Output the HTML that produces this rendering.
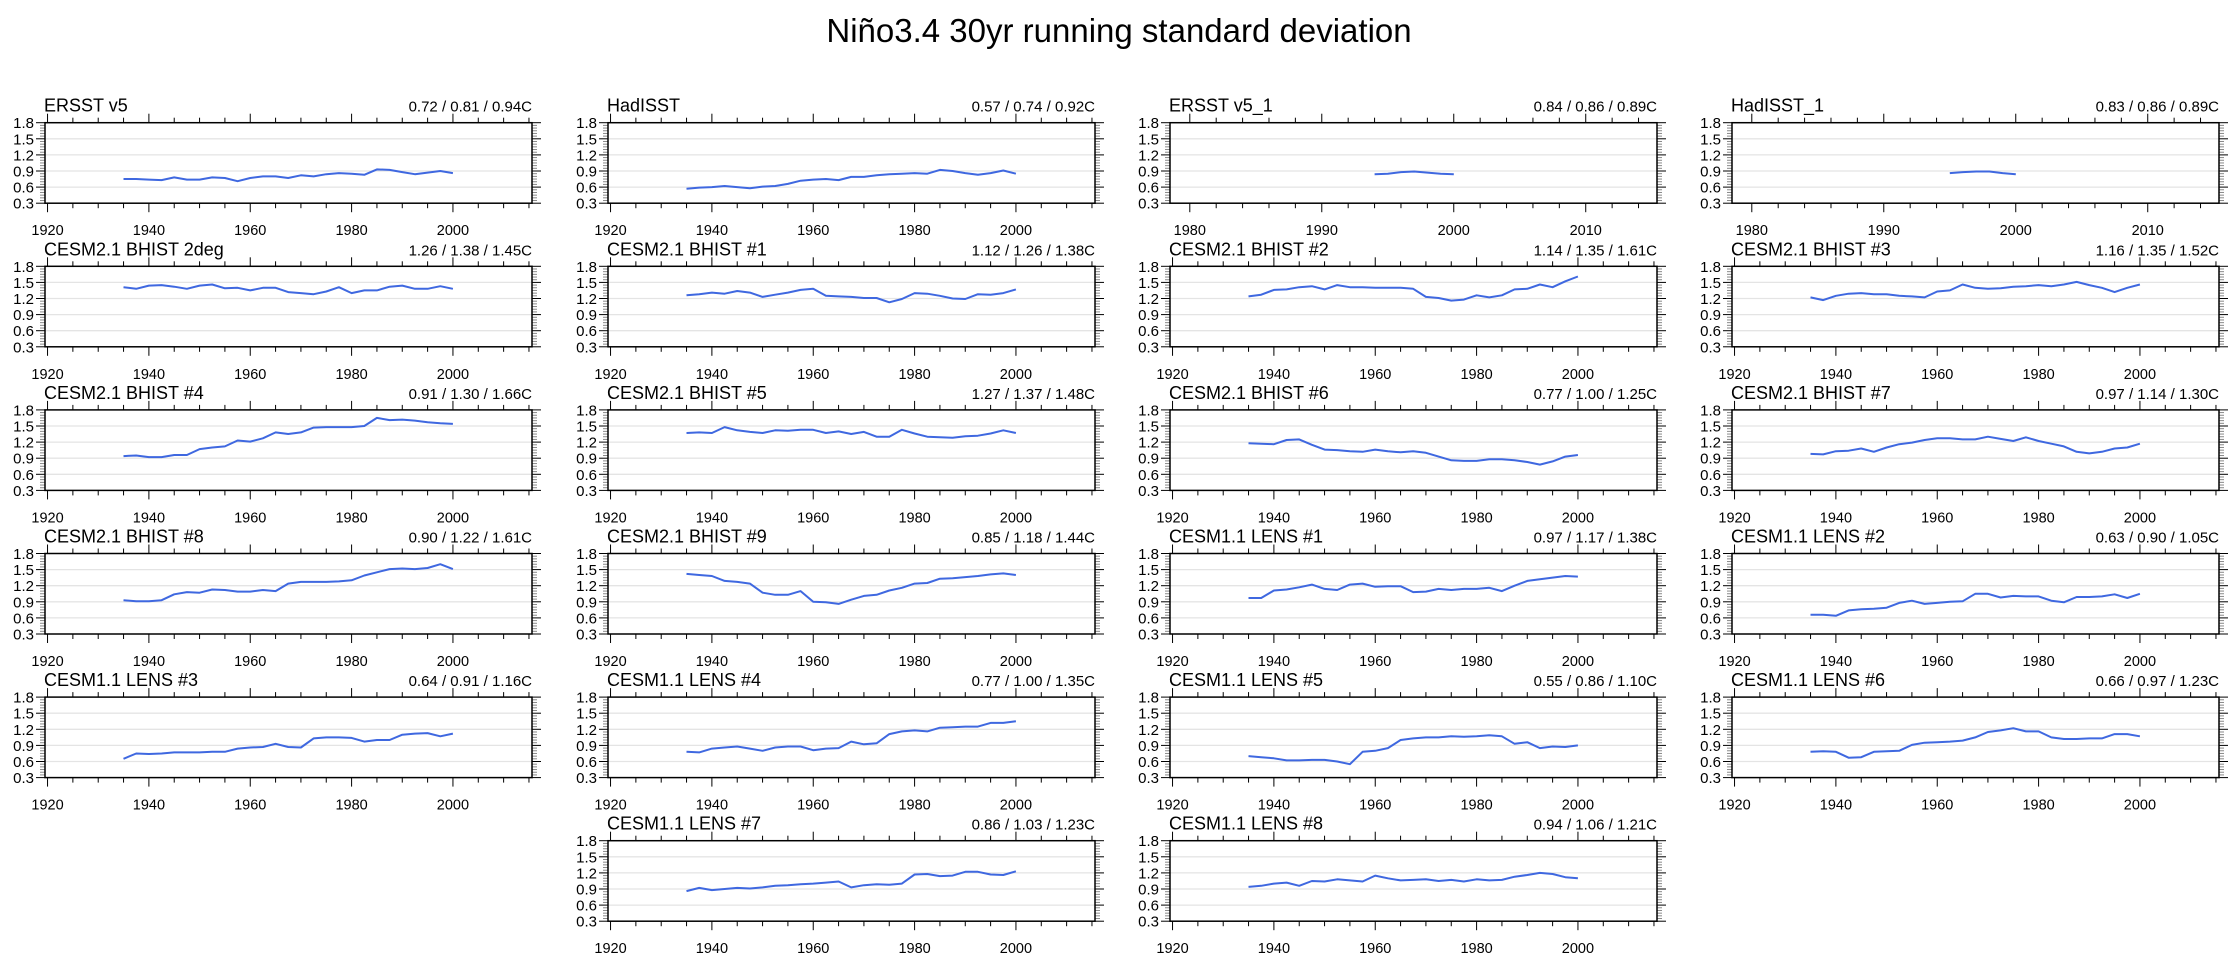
<!DOCTYPE html>
<html><head><meta charset="utf-8"><style>
html,body{margin:0;padding:0;background:#fff;}
svg{display:block;font-family:"Liberation Sans",sans-serif;}
</style></head><body>
<svg id="chart" width="2238" height="959" viewBox="0 0 2238 959">
<text x="1119" y="42" font-size="33" text-anchor="middle">Niño3.4 30yr running standard deviation</text>
</svg>
<script>
const stdYears = [1935,1937.5,1940,1942.5,1945,1947.5,1950,1952.5,1955,1957.5,1960,1962.5,1965,1967.5,1970,1972.5,1975,1977.5,1980,1982.5,1985,1987.5,1990,1992.5,1995,1997.5,2000];
const ersst1Years = [1994,1995,1996,1997,1998,1999,2000];
const hadisst1Years = [1995,1996,1997,1998,1999,2000];
const panelTitles = ["ERSST v5","HadISST","ERSST v5_1","HadISST_1","CESM2.1 BHIST 2deg","CESM2.1 BHIST #1","CESM2.1 BHIST #2","CESM2.1 BHIST #3","CESM2.1 BHIST #4","CESM2.1 BHIST #5","CESM2.1 BHIST #6","CESM2.1 BHIST #7","CESM2.1 BHIST #8","CESM2.1 BHIST #9","CESM1.1 LENS #1","CESM1.1 LENS #2","CESM1.1 LENS #3","CESM1.1 LENS #4","CESM1.1 LENS #5","CESM1.1 LENS #6","CESM1.1 LENS #7","CESM1.1 LENS #8"];
const panelStats = ["0.72 / 0.81 / 0.94C","0.57 / 0.74 / 0.92C","0.84 / 0.86 / 0.89C","0.83 / 0.86 / 0.89C","1.26 / 1.38 / 1.45C","1.12 / 1.26 / 1.38C","1.14 / 1.35 / 1.61C","1.16 / 1.35 / 1.52C","0.91 / 1.30 / 1.66C","1.27 / 1.37 / 1.48C","0.77 / 1.00 / 1.25C","0.97 / 1.14 / 1.30C","0.90 / 1.22 / 1.61C","0.85 / 1.18 / 1.44C","0.97 / 1.17 / 1.38C","0.63 / 0.90 / 1.05C","0.64 / 0.91 / 1.16C","0.77 / 1.00 / 1.35C","0.55 / 0.86 / 1.10C","0.66 / 0.97 / 1.23C","0.86 / 1.03 / 1.23C","0.94 / 1.06 / 1.21C"];
const vErsst = [0.75,0.75,0.74,0.73,0.78,0.74,0.74,0.78,0.77,0.71,0.77,0.80,0.80,0.77,0.82,0.80,0.84,0.86,0.85,0.83,0.93,0.92,0.88,0.84,0.87,0.90,0.86];
const vHadisst = [0.57,0.59,0.60,0.62,0.60,0.58,0.61,0.62,0.66,0.72,0.74,0.75,0.73,0.79,0.79,0.82,0.84,0.85,0.86,0.85,0.92,0.90,0.86,0.83,0.86,0.91,0.85];
const vErsst1 = [0.84,0.85,0.88,0.89,0.87,0.85,0.84];
const vHadisst1 = [0.86,0.88,0.89,0.89,0.86,0.84];
const vB2deg = [1.41,1.38,1.44,1.45,1.42,1.38,1.44,1.46,1.39,1.40,1.35,1.40,1.40,1.32,1.30,1.28,1.33,1.41,1.30,1.35,1.35,1.42,1.44,1.38,1.38,1.43,1.38];
const vB1 = [1.26,1.28,1.31,1.29,1.34,1.31,1.23,1.27,1.31,1.36,1.38,1.25,1.24,1.23,1.21,1.21,1.13,1.19,1.30,1.29,1.25,1.20,1.19,1.28,1.27,1.30,1.37];
const vB2 = [1.24,1.27,1.36,1.37,1.41,1.43,1.37,1.45,1.41,1.41,1.40,1.40,1.40,1.38,1.23,1.21,1.16,1.18,1.26,1.22,1.26,1.37,1.38,1.46,1.41,1.52,1.61];
const vB3 = [1.22,1.17,1.25,1.29,1.30,1.28,1.28,1.25,1.24,1.22,1.33,1.35,1.46,1.40,1.38,1.39,1.42,1.43,1.45,1.43,1.46,1.51,1.45,1.40,1.32,1.40,1.46];
const vB4 = [0.94,0.95,0.92,0.92,0.96,0.96,1.07,1.10,1.12,1.23,1.21,1.27,1.38,1.35,1.38,1.47,1.48,1.48,1.48,1.50,1.65,1.61,1.62,1.60,1.57,1.55,1.54];
const vB5 = [1.37,1.38,1.37,1.48,1.42,1.39,1.37,1.42,1.41,1.43,1.43,1.37,1.40,1.35,1.39,1.30,1.30,1.43,1.36,1.30,1.29,1.28,1.31,1.32,1.36,1.42,1.37];
const vB6 = [1.18,1.17,1.16,1.24,1.25,1.15,1.06,1.05,1.03,1.02,1.06,1.03,1.01,1.03,1.00,0.93,0.86,0.85,0.85,0.88,0.88,0.86,0.83,0.78,0.84,0.93,0.96];
const vB7 = [0.98,0.97,1.03,1.04,1.08,1.02,1.10,1.16,1.19,1.24,1.27,1.27,1.25,1.25,1.30,1.26,1.22,1.29,1.22,1.17,1.12,1.02,0.99,1.02,1.08,1.10,1.17];
const vB8 = [0.93,0.91,0.91,0.93,1.04,1.08,1.07,1.13,1.12,1.09,1.09,1.12,1.10,1.24,1.27,1.27,1.27,1.28,1.30,1.39,1.45,1.51,1.52,1.51,1.53,1.60,1.51];
const vB9 = [1.42,1.40,1.38,1.29,1.27,1.24,1.07,1.03,1.03,1.10,0.90,0.89,0.86,0.94,1.01,1.03,1.11,1.16,1.24,1.25,1.33,1.34,1.36,1.38,1.41,1.43,1.40];
const vL1 = [0.97,0.97,1.11,1.13,1.17,1.22,1.14,1.12,1.22,1.24,1.18,1.19,1.19,1.08,1.09,1.14,1.12,1.14,1.14,1.16,1.10,1.20,1.29,1.32,1.35,1.38,1.37];
const vL2 = [0.66,0.66,0.64,0.74,0.76,0.77,0.79,0.88,0.92,0.86,0.88,0.90,0.91,1.05,1.05,0.98,1.01,1.00,1.00,0.92,0.89,0.99,0.99,1.00,1.04,0.97,1.05];
const vL3 = [0.65,0.75,0.74,0.75,0.77,0.77,0.77,0.78,0.78,0.84,0.86,0.87,0.93,0.87,0.86,1.03,1.05,1.05,1.04,0.97,1.00,1.00,1.10,1.12,1.13,1.07,1.12];
const vL4 = [0.78,0.77,0.84,0.86,0.88,0.84,0.80,0.86,0.88,0.88,0.81,0.84,0.85,0.97,0.92,0.94,1.11,1.16,1.18,1.16,1.23,1.24,1.25,1.25,1.32,1.32,1.35];
const vL5 = [0.70,0.68,0.66,0.62,0.62,0.63,0.63,0.60,0.55,0.78,0.80,0.85,1.00,1.03,1.05,1.05,1.07,1.06,1.07,1.09,1.07,0.93,0.96,0.85,0.88,0.87,0.90];
const vL6 = [0.78,0.79,0.78,0.67,0.68,0.78,0.79,0.80,0.91,0.95,0.96,0.97,0.99,1.05,1.15,1.18,1.22,1.16,1.16,1.05,1.02,1.02,1.03,1.03,1.11,1.11,1.07];
const vL7 = [0.86,0.92,0.88,0.90,0.92,0.91,0.93,0.96,0.97,0.99,1.00,1.02,1.04,0.93,0.97,0.99,0.98,1.00,1.17,1.18,1.14,1.15,1.22,1.22,1.17,1.16,1.23];
const vL8 = [0.94,0.96,1.00,1.02,0.96,1.05,1.04,1.08,1.06,1.04,1.15,1.10,1.06,1.07,1.08,1.05,1.07,1.04,1.08,1.06,1.07,1.13,1.16,1.20,1.18,1.12,1.10];
const yTicks = [0.3,0.6,0.9,1.2,1.5,1.8];
const yTickLabels = ["0.3","0.6","0.9","1.2","1.5","1.8"];

const NS = "http://www.w3.org/2000/svg";
const svg = document.getElementById('chart');
const seriesList = [vErsst,vHadisst,vErsst1,vHadisst1,vB2deg,vB1,vB2,vB3,vB4,vB5,vB6,vB7,vB8,vB9,vL1,vL2,vL3,vL4,vL5,vL6,vL7,vL8];
const yearsList = seriesList.map((s,i)=> i===2 ? ersst1Years : (i===3 ? hadisst1Years : stdYears));
const colLeft = [45, 608, 1170, 1732];
const W = 487, H = 80.5, ROW0 = 122.7, ROWSTEP = 143.6;

function mk(tag, attrs, parent){
  const e = document.createElementNS(NS, tag);
  for (const k in attrs) e.setAttribute(k, attrs[k]);
  (parent||svg).appendChild(e);
  return e;
}

seriesList.forEach((vals, i) => {
  let row, col;
  if (i < 20) { row = Math.floor(i/4); col = i%4; } else { row = 5; col = i-19; }
  const L = colLeft[col], T = ROW0 + row*ROWSTEP, B = T + H, R = L + W;
  const shortAxis = (i===2 || i===3);
  const xmin = shortAxis ? 1978.5 : 1919.5, xmax = shortAxis ? 2015.4 : 2015.6;
  const xs = v => L + (v - xmin)/(xmax - xmin)*W;
  const ys = v => B - (v - 0.3)/1.5*H;
  const g = mk('g', {});
  
  

  [0.6,0.9,1.2,1.5].forEach(v => {
    const gl = mk('line', {x1:L, x2:R, y1:ys(v), y2:ys(v), stroke:'#e4e4e4', 'stroke-width':1.3}, g);
    
    
  });
  for (let k = 0; k <= 30; k++) {
    const v = 0.3 + k*0.05, y = ys(v), major = (k%6===0), len = major ? 9 : 5;
    mk('line', {x1:L-len, x2:L, y1:y, y2:y, stroke: major?'#000':'#888', 'stroke-width':1}, g);
    mk('line', {x1:R, x2:R+len, y1:y, y2:y, stroke: major?'#000':'#888', 'stroke-width':1}, g);
  }
  yTicks.forEach((v, k) => {
    const t = mk('text', {x:L-11, y:ys(v)+5.5, 'font-size':15, 'text-anchor':'end'}, g);
    t.textContent = yTickLabels[k];
    
    
  });
  const majorStep = shortAxis ? 10 : 20, minorStep = shortAxis ? 2 : 5;
  const start = Math.ceil(xmin/minorStep)*minorStep;
  for (let yr = start; yr <= xmax; yr += minorStep) {
    const x = xs(yr), major = (yr % majorStep === 0), len = major ? 9 : 5;
    mk('line', {x1:x, x2:x, y1:T-len, y2:T, stroke:'#000', 'stroke-width':1}, g);
    mk('line', {x1:x, x2:x, y1:B, y2:B+len, stroke:'#000', 'stroke-width':1}, g);
    if (major) {
      const t = mk('text', {x:x, y:B+32, 'font-size':14.5, 'text-anchor':'middle'}, g);
      t.textContent = String(yr);
      
      
    }
  }
  const fr = mk('rect', {x:L, y:T, width:W, height:H, fill:'none', stroke:'#000', 'stroke-width':1.5}, g);
  
  
  const yrs = yearsList[i];
  const d = vals.map((v, k) => (k ? 'L' : 'M') + xs(yrs[k]).toFixed(1) + ',' + ys(v).toFixed(1)).join(' ');
  const p = mk('path', {d:d, fill:'none', stroke:'#3f68e0', 'stroke-width':2, 'stroke-linejoin':'round'}, g);
  
  
  const tt = mk('text', {x:L-1, y:T-11, 'font-size':18}, g);
  tt.textContent = panelTitles[i];
  
  
  const st = mk('text', {x:R, y:T-11, 'font-size':15, 'text-anchor':'end'}, g);
  st.textContent = panelStats[i];
  
  
});
</script>
</body></html>
